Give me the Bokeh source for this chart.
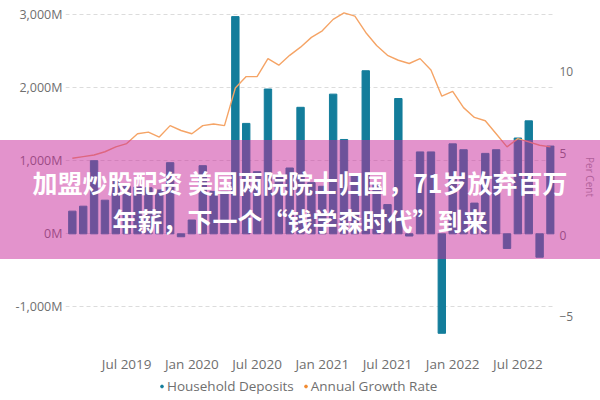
from bokeh.plotting import figure
from bokeh.layouts import column
from bokeh.models import (Range1d, LinearAxis, Legend, Div,
                          LegendItem, ColumnDataSource, FixedTicker)
from bokeh.embed import file_html
from bokeh.resources import INLINE

# ---- data (monthly, Feb 2019 .. Oct 2022) ----
months = ["2019-02", "2019-03", "2019-04", "2019-05", "2019-06", "2019-07", "2019-08",
          "2019-09", "2019-10", "2019-11", "2019-12", "2020-01", "2020-02", "2020-03",
          "2020-04", "2020-05", "2020-06", "2020-07", "2020-08", "2020-09", "2020-10",
          "2020-11", "2020-12", "2021-01", "2021-02", "2021-03", "2021-04", "2021-05",
          "2021-06", "2021-07", "2021-08", "2021-09", "2021-10", "2021-11", "2021-12",
          "2022-01", "2022-02", "2022-03", "2022-04", "2022-05", "2022-06", "2022-07",
          "2022-08", "2022-09", "2022-10"]
household_deposits = [310, 378, 1000, 460, 720, 650, 640, 630, 600, 973, -40, 189,
                      932, 580, 580, 2970, 1510, 850, 1980, 800, 900, 1730, 700, 650,
                      1910, 1290, 800, 2230, 700, 400, 1850, -30, 1120, 1120, -1360,
                      1230, 1150, 420, 1100, 1150, -200, 1310, 1545, -320, 1200]
annual_growth_rate = [4.7, 4.8, 4.9, 5.1, 5.4, 5.6, 6.2, 6.3, 6.0, 6.7, 6.4, 6.2,
                      6.7, 6.8, 6.7, 9.0, 9.7, 9.7, 10.8, 10.4, 11.0, 11.5, 12.1, 12.5,
                      13.2, 13.6, 13.4, 12.4, 11.6, 11.0, 10.7, 10.5, 10.8, 10.1, 8.5,
                      8.8, 7.8, 7.2, 7.0, 6.2, 5.4, 5.9, 5.7, 5.5, 5.4]
x_tick_months = ["2019-07", "2020-01", "2020-07", "2021-01", "2021-07", "2022-01", "2022-07"]
x_tick_labels = ["Jul 2019", "Jan 2020", "Jul 2020", "Jan 2021", "Jul 2021", "Jan 2022", "Jul 2022"]
left_ticks = [-1000, 0, 1000, 2000, 3000]
left_tick_labels = ["-1,000M", "0M", "1,000M", "2,000M", "3,000M"]
right_ticks = [-5, 0, 5, 10]
series_names = ["Household Deposits", "Annual Growth Rate"]
headline = ["加盟炒股配资 美国两院院士归国，71岁放弃百万",
            "年薪，下一个“钱学森时代”到来"]

TEAL = "#137d9b"
ORANGE = "#f5a466"
LABEL_GREY = "#6f6f6f"
FONT = "Open Sans"

idx = list(range(len(months)))
src = ColumnDataSource(dict(x=idx, dep=household_deposits, gr=annual_growth_rate))

MAIN_H = 375
p = figure(width=600, height=MAIN_H, output_backend="svg", toolbar_location=None,
           x_range=Range1d(-0.63, 44.37), y_range=Range1d(-1568, 3122),
           min_border_left=65, min_border_right=40, min_border_top=5,
           min_border_bottom=23)
p.outline_line_color = None

p.extra_y_ranges = {"pct": Range1d(-6.94, 14.05)}

# bars + line
p.vbar(x="x", top="dep", width=0.68, source=src, color=TEAL)
p.line(x="x", y="gr", source=src, y_range_name="pct", color=ORANGE, line_width=1.4)

# axes styling
p.xaxis.ticker = FixedTicker(ticks=[months.index(m) for m in x_tick_months])
p.xaxis.major_label_overrides = {months.index(m): l for m, l in zip(x_tick_months, x_tick_labels)}
p.yaxis.ticker = FixedTicker(ticks=left_ticks)
p.yaxis.major_label_overrides = dict(zip(left_ticks, left_tick_labels))
p.ygrid.ticker = p.yaxis[0].ticker
p.xgrid.visible = False
p.ygrid.grid_line_color = "#dcdcdc"
p.ygrid.grid_line_dash = "4 3"

raxis = LinearAxis(y_range_name="pct", ticker=FixedTicker(ticks=right_ticks),
                   axis_label="Per Cent")
p.add_layout(raxis, "right")

for ax in [p.xaxis[0], p.yaxis[0], raxis]:
    ax.axis_line_color = None
    ax.major_tick_line_color = None
    ax.minor_tick_line_color = None
    ax.major_tick_out = 0
    ax.major_tick_in = 0
    ax.minor_tick_out = 0
    ax.major_label_text_color = LABEL_GREY
    ax.major_label_text_font = FONT
p.xaxis.major_label_text_font_size = "13.5px"
p.xaxis.major_label_standoff = 6
p.yaxis[0].major_label_text_font_size = "12.5px"
p.yaxis[0].major_label_standoff = 3
raxis.major_label_text_font_size = "12px"
raxis.major_label_standoff = 5
raxis.axis_label_text_font_size = "10px"
raxis.axis_label_text_font_style = "normal"
raxis.axis_label_text_color = "#9a9a9a"
raxis.axis_label_text_font = FONT
raxis.axis_label_standoff = 7

# legend strip: separate small figure whose frame holds the legend
q = figure(width=600, height=400 - MAIN_H, output_backend="svg", toolbar_location=None,
           x_range=Range1d(0, 1), y_range=Range1d(0, 1), min_border=0,
           x_axis_location=None, y_axis_location=None)
q.grid.visible = False
q.outline_line_color = None
nan = float("nan")
leg_src = ColumnDataSource(dict(x=[nan], y=[nan]))
r1 = q.scatter(x="x", y="y", source=leg_src, marker="circle", size=6, color=TEAL)
r2 = q.scatter(x="x", y="y", source=leg_src, marker="circle", size=6, color="#f28a30")
legend = Legend(items=[LegendItem(label=series_names[0], renderers=[r1]),
                       LegendItem(label=series_names[1], renderers=[r2])],
                orientation="horizontal", location=(93, 5),
                border_line_color=None, background_fill_alpha=0,
                label_text_font=FONT, label_text_font_size="13.5px",
                label_text_color=LABEL_GREY, glyph_width=7, glyph_height=8,
                label_height=14, label_standoff=2, spacing=8, padding=0, margin=0)
q.add_layout(legend)

# pink overlay band with headline text, laid over the chart
BAND_TOP, BAND_H = 140, 119
band_html = (
    '<div style="width:600px;height:%dpx;box-sizing:border-box;padding-top:23px;'
    'background:rgba(200,40,154,0.5);color:#ffffff;'
    "font-family:'Noto Sans CJK SC';font-weight:bold;font-size:25px;"
    'line-height:38px;text-align:center;white-space:nowrap;margin:0;">'
    '%s<br>%s</div>' % (BAND_H, headline[0], headline[1])
)
band = Div(text=band_html, width=600, height=BAND_H,
           margin=(BAND_TOP - 400, 0, 0, 0))

layout = column(p, q, band, spacing=0)
open("out.html", "w").write(file_html(layout, INLINE))
